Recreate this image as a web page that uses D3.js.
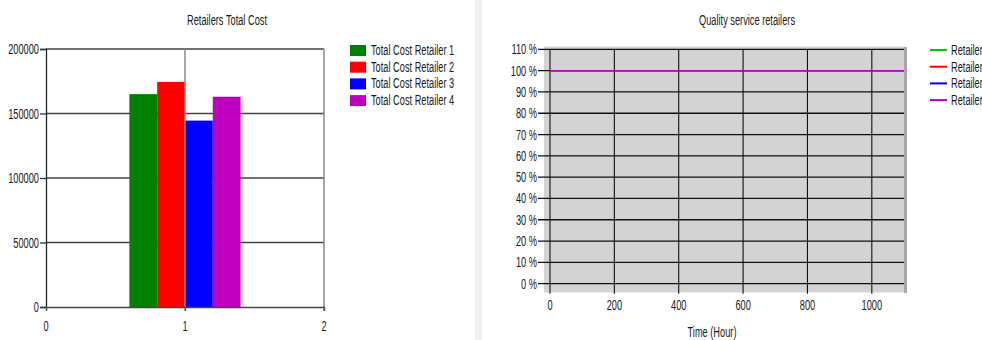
<!DOCTYPE html>
<html>
<head>
<meta charset="utf-8">
<script src="https://cdn.jsdelivr.net/npm/d3@7"></script>
<style>
  html, body { margin: 0; padding: 0; background: #fff; }
  svg { display: block; }
  text { font-family: "Liberation Sans", Arial, sans-serif; font-size: 14px; fill: #1a1a1a; }
</style>
</head>
<body>
<svg id="chart" width="982" height="340"></svg>
<script>
// Total cost per retailer (bar chart)
const costSeries = ["Total Cost Retailer 1", "Total Cost Retailer 2", "Total Cost Retailer 3", "Total Cost Retailer 4"];
const costValues = [165000, 174500, 144500, 163000];
const costColors = ["#008000", "#ff0000", "#0000ff", "#c000c0"];
const costYTicks = [0, 50000, 100000, 150000, 200000];
const costXTicks = [0, 1, 2];

// Quality of service per retailer over time (line chart)
const qualitySeries = ["Retailer1", "Retailer2", "Retailer3", "Retailer4"];
const qualityColors = ["#00c800", "#ff0000", "#0000ff", "#c000c0"];
const hours = [0, 200, 400, 600, 800, 1000, 1100];
const quality = [
  [100, 100, 100, 100, 100, 100, 100],
  [100, 100, 100, 100, 100, 100, 100],
  [100, 100, 100, 100, 100, 100, 100],
  [100, 100, 100, 100, 100, 100, 100]
];
const qualityYTicks = [0, 10, 20, 30, 40, 50, 60, 70, 80, 90, 100, 110];
const qualityXTicks = [0, 200, 400, 600, 800, 1000];

const svg = d3.select("#chart");

// condensed text: the narrow UI face is emulated by squeezing horizontally
const SX = 0.66;
function label(g, x, y, str, anchor) {
  return g.append("text")
    .attr("transform", `translate(${x},${y}) scale(${SX},1)`)
    .attr("text-anchor", anchor || "start")
    .text(str);
}

// separator strip between the two panels
svg.append("rect").attr("x", 475).attr("y", 0).attr("width", 7).attr("height", 340).attr("fill", "#f0f0f0");

/* ---------------- Left panel: bars ---------------- */
{
  const x = d3.scaleLinear().domain([0, 2]).range([46, 324]);
  const y = d3.scaleLinear().domain([0, 200000]).range([307, 49]);
  const g = svg.append("g");
  const barW = 0.2;
  const barStart = 1 - barW * costValues.length / 2;

  label(g, 227, 25, "Retailers Total Cost", "middle");

  // horizontal grid
  g.selectAll("line.hgrid").data(costYTicks.filter(d => d > 0)).join("line")
    .attr("x1", x(0)).attr("x2", x(2)).attr("y1", d => y(d)).attr("y2", d => y(d))
    .attr("stroke", "#444").attr("stroke-width", 1.3);

  // bars
  g.selectAll("rect.bar").data(costValues).join("rect")
    .attr("x", (d, i) => x(barStart + i * barW))
    .attr("width", x(barW) - x(0))
    .attr("y", d => y(d))
    .attr("height", d => y(0) - y(d))
    .attr("fill", (d, i) => costColors[i]);

  // vertical grid
  g.selectAll("line.vgrid").data(costXTicks.filter(d => d > 0)).join("line")
    .attr("x1", d => x(d)).attr("x2", d => x(d)).attr("y1", y(200000)).attr("y2", y(0) + 4)
    .attr("stroke", "#8a8a8a").attr("stroke-width", 1.5);

  // y axis
  const ya = d3.axisLeft(y).tickValues(costYTicks).tickSize(6).tickFormat("");
  const yg = g.append("g").attr("transform", `translate(${x(0)},0)`).call(ya);
  yg.select(".domain").attr("stroke", "#222").attr("stroke-width", 1.3);
  yg.selectAll(".tick line").attr("stroke", "#333").attr("stroke-width", 1.3);
  costYTicks.forEach(t => label(g, 39, y(t) + 5, d3.format("d")(t), "end"));

  // x axis
  const xa = d3.axisBottom(x).tickValues(costXTicks).tickSize(4).tickFormat("");
  const xg = g.append("g").attr("transform", `translate(0,${y(0)})`).call(xa);
  xg.select(".domain").attr("stroke", "#444").attr("stroke-width", 1.3);
  xg.selectAll(".tick line").attr("stroke", "#555").attr("stroke-width", 1.2);
  costXTicks.forEach(t => label(g, x(t), 331, d3.format("d")(t), "middle"));

  // legend
  costSeries.forEach((s, i) => {
    const ly = 50 + i * 16.7;
    g.append("rect").attr("x", 350).attr("y", ly - 5).attr("width", 16).attr("height", 11).attr("fill", costColors[i]);
    label(g, 371, ly + 5, s);
  });
}

/* ---------------- Right panel: quality lines ---------------- */
{
  const x = d3.scaleLinear().domain([0, 1100]).range([550, 904]);
  const y = d3.scaleLinear().domain([0, 110]).range([283.7, 49.3]);
  const g = svg.append("g");

  label(g, 747, 25, "Quality service retailers", "middle");

  // plot background with a shadow on the right edge
  g.append("rect").attr("x", 904).attr("y", 47).attr("width", 3).attr("height", 246).attr("fill", "#a8a8a8");
  g.append("rect").attr("x", 544).attr("y", 46.5).attr("width", 360).attr("height", 246).attr("fill", "#d3d3d3");

  // grid
  g.selectAll("line.hgrid").data(qualityYTicks).join("line")
    .attr("x1", 538).attr("x2", x(1100)).attr("y1", d => y(d)).attr("y2", d => y(d))
    .attr("stroke", "#111").attr("stroke-width", 1.3);
  g.selectAll("line.vgrid").data(qualityXTicks).join("line")
    .attr("x1", d => x(d)).attr("x2", d => x(d)).attr("y1", y(110)).attr("y2", y(0) + 10)
    .attr("stroke", "#111").attr("stroke-width", 1.1);

  // tick labels
  qualityYTicks.forEach(t => label(g, 537, y(t) + 5, t + " %", "end"));
  qualityXTicks.forEach(t => label(g, x(t), 310, String(t), "middle"));

  label(g, 712, 337, "Time (Hour)", "middle");

  // series lines
  const line = d3.line().x((d, i) => x(hours[i])).y(d => y(d));
  g.selectAll("path.series").data(quality).join("path")
    .attr("d", line).attr("fill", "none")
    .attr("stroke", (d, i) => qualityColors[i]).attr("stroke-width", 1.3);

  // legend (runs past the right edge of the page)
  qualitySeries.forEach((s, i) => {
    const ly = 50 + i * 16.7;
    g.append("line").attr("x1", 930).attr("x2", 947).attr("y1", ly).attr("y2", ly)
      .attr("stroke", qualityColors[i]).attr("stroke-width", 2);
    label(g, 951, ly + 5, s);
  });
}
</script>
</body>
</html>
